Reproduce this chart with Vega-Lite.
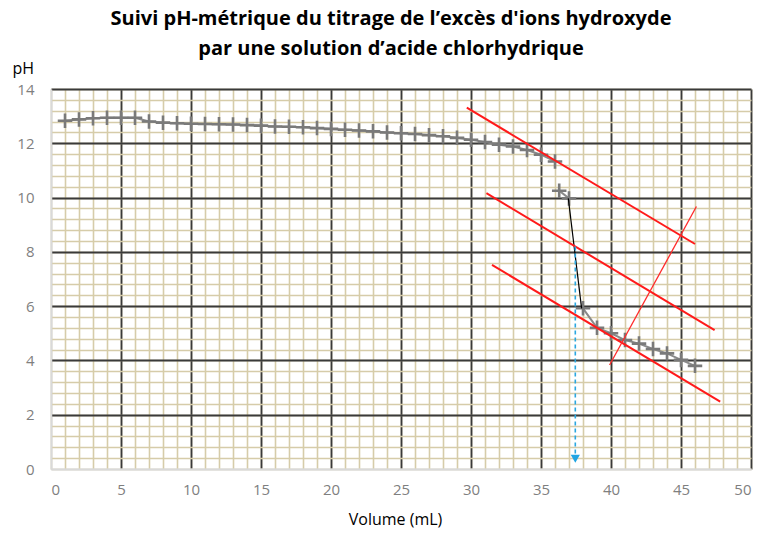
{
  "$schema": "https://vega.github.io/schema/vega-lite/v6.json",
  "width": 700,
  "height": 380,
  "autosize": {"type": "none"},
  "padding": {"left": 51, "top": 89, "right": 9, "bottom": 65},
  "background": "#ffffff",
  "title": {
    "text": ["Suivi pH-métrique du titrage de l’excès d'ions hydroxyde", "par une solution d’acide chlorhydrique"],
    "font": "Open Sans",
    "fontSize": 20,
    "fontWeight": "bold",
    "color": "#000000",
    "anchor": "middle",
    "lineHeight": 30,
    "offset": 22,
    "dx": -10,
    "dy": 21
  },
  "config": {
    "view": {"stroke": null},
    "axis": {"labelFont": "Open Sans", "titleFont": "Open Sans"}
  },
  "datasets": {
    "titrage": [
      {"v": 1, "pH": 12.83, "seg": "a"},
      {"v": 2, "pH": 12.88, "seg": "a"},
      {"v": 3, "pH": 12.92, "seg": "a"},
      {"v": 4, "pH": 12.94, "seg": "a"},
      {"v": 5, "pH": 12.94, "seg": "a"},
      {"v": 6, "pH": 12.94, "seg": "a"},
      {"v": 7, "pH": 12.8, "seg": "a"},
      {"v": 8, "pH": 12.76, "seg": "a"},
      {"v": 9, "pH": 12.74, "seg": "a"},
      {"v": 10, "pH": 12.72, "seg": "a"},
      {"v": 11, "pH": 12.71, "seg": "a"},
      {"v": 12, "pH": 12.7, "seg": "a"},
      {"v": 13, "pH": 12.69, "seg": "a"},
      {"v": 14, "pH": 12.67, "seg": "a"},
      {"v": 15, "pH": 12.65, "seg": "a"},
      {"v": 16, "pH": 12.62, "seg": "a"},
      {"v": 17, "pH": 12.61, "seg": "a"},
      {"v": 18, "pH": 12.59, "seg": "a"},
      {"v": 19, "pH": 12.56, "seg": "a"},
      {"v": 20, "pH": 12.53, "seg": "a"},
      {"v": 21, "pH": 12.5, "seg": "a"},
      {"v": 22, "pH": 12.47, "seg": "a"},
      {"v": 23, "pH": 12.44, "seg": "a"},
      {"v": 24, "pH": 12.4, "seg": "a"},
      {"v": 25, "pH": 12.37, "seg": "a"},
      {"v": 26, "pH": 12.34, "seg": "a"},
      {"v": 27, "pH": 12.3, "seg": "a"},
      {"v": 28, "pH": 12.26, "seg": "a"},
      {"v": 29, "pH": 12.2, "seg": "a"},
      {"v": 30, "pH": 12.13, "seg": "a"},
      {"v": 31, "pH": 12.05, "seg": "a"},
      {"v": 32, "pH": 11.95, "seg": "a"},
      {"v": 33, "pH": 11.88, "seg": "a"},
      {"v": 34, "pH": 11.75, "seg": "a"},
      {"v": 35, "pH": 11.58, "seg": "a"},
      {"v": 36, "pH": 11.33, "seg": "a"},
      {"v": 36.3, "pH": 10.25, "seg": "b"},
      {"v": 37, "pH": 9.97, "seg": "b"},
      {"v": 38, "pH": 5.92, "seg": "c"},
      {"v": 39, "pH": 5.2, "seg": "c"},
      {"v": 40, "pH": 5.0, "seg": "c"},
      {"v": 41, "pH": 4.75, "seg": "c"},
      {"v": 42, "pH": 4.62, "seg": "c"},
      {"v": 43, "pH": 4.42, "seg": "c"},
      {"v": 44, "pH": 4.26, "seg": "c"},
      {"v": 45, "pH": 4.02, "seg": "c"},
      {"v": 46, "pH": 3.8, "seg": "c"}
    ],
    "tangentes": [
      {"id": "t1", "v": 29.7, "pH": 13.31},
      {"id": "t1", "v": 46.0, "pH": 8.29},
      {"id": "t2", "v": 31.1, "pH": 10.16},
      {"id": "t2", "v": 47.4, "pH": 5.12},
      {"id": "t3", "v": 31.5, "pH": 7.52},
      {"id": "t3", "v": 47.8, "pH": 2.48}
    ],
    "perpendiculaire": [
      {"v": 39.9, "pH": 3.83},
      {"v": 46.1, "pH": 9.67}
    ],
    "saut": [
      {"v": 36.95, "pH": 9.97},
      {"v": 37.9, "pH": 5.92}
    ],
    "equivalence": [
      {"v": 37.45, "pH": 8.2, "pH2": 0.45}
    ],
    "fleche": [
      {"v": 37.45, "pH": 0.38}
    ]
  },
  "resolve": {"axis": {"x": "independent", "y": "independent"}},
  "layer": [
    {
      "data": {"name": "titrage"},
      "mark": {"type": "line", "color": "#8a8a8a", "strokeWidth": 2},
      "encoding": {
        "x": {
          "field": "v", "type": "quantitative",
          "scale": {"domain": [0, 50], "nice": false, "zero": false},
          "axis": {
            "orient": "top", "grid": true, "gridColor": "#d6cca9", "gridWidth": 1.6,
            "values": [0,1,2,3,4,5,6,7,8,9,10,11,12,13,14,15,16,17,18,19,20,21,22,23,24,25,26,27,28,29,30,31,32,33,34,35,36,37,38,39,40,41,42,43,44,45,46,47,48,49,50],
            "labels": false, "ticks": false, "domain": false, "title": null, "zindex": 0
          }
        },
        "y": {
          "field": "pH", "type": "quantitative",
          "scale": {"domain": [0, 14], "nice": false, "zero": false},
          "axis": {
            "orient": "right", "grid": true, "gridColor": "#d6cca9", "gridWidth": 1.6,
            "values": [0,0.4,0.8,1.2,1.6,2,2.4,2.8,3.2,3.6,4,4.4,4.8,5.2,5.6,6,6.4,6.8,7.2,7.6,8,8.4,8.8,9.2,9.6,10,10.4,10.8,11.2,11.6,12,12.4,12.8,13.2,13.6,14],
            "labels": false, "ticks": false, "domain": false, "title": null, "zindex": 0
          }
        },
        "detail": {"field": "seg"}
      }
    },
    {
      "data": {"name": "titrage"},
      "mark": {"type": "point", "shape": "M-1,0L1,0M0,-1L0,1", "filled": false, "size": 210, "strokeWidth": 2.6, "color": "#7a7a7a", "opacity": 1},
      "encoding": {
        "x": {
          "field": "v", "type": "quantitative",
          "axis": {
            "orient": "bottom", "grid": true,
            "gridColor": {"condition": {"test": "datum.value === 0", "value": "#d9d9d9"}, "value": "#3a3a3a"},
            "gridWidth": 1.8,
            "values": [0,5,10,15,20,25,30,35,40,45,50],
            "ticks": false, "tickSize": 0, "domain": true, "domainColor": "#d9d9d9", "domainWidth": 1.5,
            "labelColor": "#7f7f7f", "labelFontSize": 15, "labelPadding": 13,
            "title": "Volume (mL)", "titleFontSize": 16, "titleFontWeight": "normal", "titleColor": "#000000",
            "titleX": 344, "titleY": 42, "titleAlign": "center", "titleBaseline": "top", "zindex": 0
          }
        },
        "y": {
          "field": "pH", "type": "quantitative",
          "axis": {
            "orient": "left", "grid": true,
            "gridColor": {"condition": {"test": "datum.value === 0", "value": "#d9d9d9"}, "value": "#3a3a3a"},
            "gridWidth": 1.8,
            "values": [0,2,4,6,8,10,12,14],
            "ticks": false, "tickSize": 0, "domain": true, "domainColor": "#d9d9d9", "domainWidth": 1.5,
            "labelColor": "#7f7f7f", "labelFontSize": 15, "labelPadding": 17,
            "title": "pH", "titleFontSize": 16, "titleFontWeight": "normal", "titleColor": "#000000",
            "titleAngle": 0, "titleX": -39, "titleY": -16, "titleAlign": "left", "titleBaseline": "alphabetic", "zindex": 0
          }
        }
      }
    },
    {
      "data": {"name": "saut"},
      "mark": {"type": "line", "color": "#000000", "strokeWidth": 1.2},
      "encoding": {
        "x": {"field": "v", "type": "quantitative", "axis": null},
        "y": {"field": "pH", "type": "quantitative", "axis": null}
      }
    },
    {
      "data": {"name": "tangentes"},
      "mark": {"type": "line", "color": "#ff1a1a", "strokeWidth": 2},
      "encoding": {
        "x": {"field": "v", "type": "quantitative", "axis": null},
        "y": {"field": "pH", "type": "quantitative", "axis": null},
        "detail": {"field": "id"}
      }
    },
    {
      "data": {"name": "perpendiculaire"},
      "mark": {"type": "line", "color": "#ff2a2a", "strokeWidth": 1.3},
      "encoding": {
        "x": {"field": "v", "type": "quantitative", "axis": null},
        "y": {"field": "pH", "type": "quantitative", "axis": null}
      }
    },
    {
      "data": {"name": "equivalence"},
      "mark": {"type": "rule", "color": "#2aa7e0", "strokeWidth": 1.6, "strokeDash": [4, 3]},
      "encoding": {
        "x": {"field": "v", "type": "quantitative", "axis": null},
        "y": {"field": "pH", "type": "quantitative", "axis": null},
        "y2": {"field": "pH2"}
      }
    },
    {
      "data": {"name": "fleche"},
      "mark": {"type": "point", "shape": "triangle-down", "filled": true, "size": 85, "color": "#1ea4e3", "opacity": 1},
      "encoding": {
        "x": {"field": "v", "type": "quantitative", "axis": null},
        "y": {"field": "pH", "type": "quantitative", "axis": null}
      }
    }
  ]
}
